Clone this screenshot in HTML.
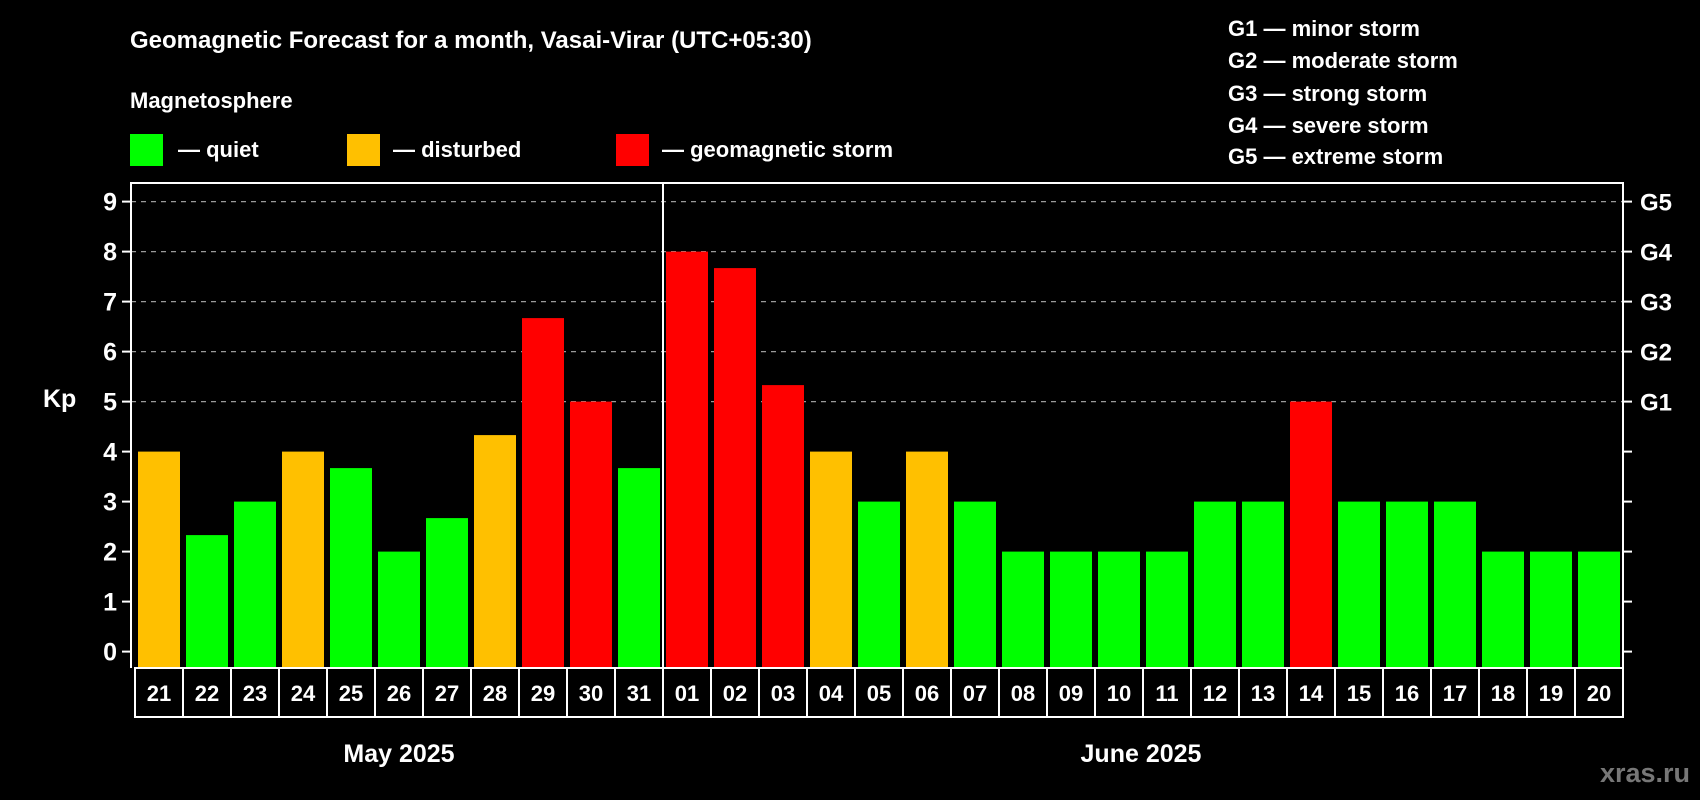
<!DOCTYPE html>
<html><head><meta charset="utf-8"><style>
html,body{margin:0;padding:0;background:#000;}
svg{display:block;font-family:"Liberation Sans",Arial,sans-serif;font-weight:bold;}
</style></head><body>
<svg id="chart" width="1700" height="800" viewBox="0 0 1700 800">
<rect width="1700" height="800" fill="#000"/>
<text x="130" y="48" fill="#fff" font-size="24">Geomagnetic Forecast for a month, Vasai-Virar (UTC+05:30)</text>
<text x="130" y="108" fill="#fff" font-size="22">Magnetosphere</text>
<g><rect x="130" y="134" width="33" height="32" fill="#00ff00"/><text x="178" y="157" fill="#fff" font-size="22">— quiet</text></g>
<g><rect x="347" y="134" width="33" height="32" fill="#ffc000"/><text x="393" y="157" fill="#fff" font-size="22">— disturbed</text></g>
<g><rect x="616" y="134" width="33" height="32" fill="#ff0000"/><text x="662" y="157" fill="#fff" font-size="22">— geomagnetic storm</text></g>
<g fill="#fff" font-size="22">
<text x="1228" y="36">G1 — minor storm</text>
<text x="1228" y="68">G2 — moderate storm</text>
<text x="1228" y="101">G3 — strong storm</text>
<text x="1228" y="133">G4 — severe storm</text>
<text x="1228" y="164">G5 — extreme storm</text>
</g>
<text x="43" y="407" fill="#fff" font-size="25">Kp</text>
<g id="grid"></g><g id="bars"></g><g id="axes"></g>
<text x="399" y="762" fill="#fff" font-size="25" text-anchor="middle">May 2025</text>
<text x="1141" y="762" fill="#fff" font-size="25" text-anchor="middle">June 2025</text>
<text x="1690" y="782" fill="#777" font-size="27" text-anchor="end">xras.ru</text>
</svg>
<script>
const days=["21","22","23","24","25","26","27","28","29","30","31","01","02","03","04","05","06","07","08","09","10","11","12","13","14","15","16","17","18","19","20"];
const kp=[4,2.33,3,4,3.67,2,2.67,4.33,6.67,5,3.67,8,7.67,5.33,4,3,4,3,2,2,2,2,3,3,5,3,3,3,2,2,2];
const yTicks=[0,1,2,3,4,5,6,7,8,9];
const gLabels=["G1","G2","G3","G4","G5"];
const gLevels=[5,6,7,8,9];
const NS="http://www.w3.org/2000/svg";
const X0=135,CW=48,Y0=651.6,U=50,PL=131,PR=1623,PT=183,PB=668;
const xs=i=>X0+i*CW, ys=v=>Y0-v*U;
function mk(t,a,p){const e=document.createElementNS(NS,t);for(const k in a)e.setAttribute(k,a[k]);p.appendChild(e);return e;}
const grid=document.getElementById('grid'),bars=document.getElementById('bars'),axes=document.getElementById('axes');
gLevels.forEach((v,i)=>{
 const l=mk('line',{x1:PL,x2:PR,y1:ys(v),y2:ys(v),stroke:'#999','stroke-width':1.3,'stroke-dasharray':'5,5'},grid);
 
 
 const t=mk('text',{x:PR+17,y:ys(v)+9,fill:'#fff','font-size':24},axes);t.textContent=gLabels[i];
 
 
});
kp.forEach((v,i)=>{
 const c=v>=5?'#ff0000':(v>=4?'#ffc000':'#00ff00');
 const r=mk('rect',{x:xs(i)+3,y:ys(v),width:CW-6,height:PB-ys(v),fill:c},bars);
 
 
 const b=mk('rect',{x:xs(i),y:PB,width:CW,height:49,fill:'none',stroke:'#fff','stroke-width':2},axes);
 
 
 const t=mk('text',{x:xs(i)+CW/2,y:PB+33,fill:'#fff','font-size':22,'text-anchor':'middle'},axes);t.textContent=days[i];
 
 
});
yTicks.forEach(v=>{
 mk('line',{x1:PL-9,x2:PL,y1:ys(v),y2:ys(v),stroke:'#fff','stroke-width':2},axes);
 mk('line',{x1:PR,x2:PR+9,y1:ys(v),y2:ys(v),stroke:'#fff','stroke-width':2},axes);
 const t=mk('text',{x:PL-14,y:ys(v)+9,fill:'#fff','font-size':25,'text-anchor':'end'},axes);t.textContent=v;
 
 
});
const f=mk('path',{d:`M${PL},${PB}V${PT}H${PR}V${PB}`,fill:'none',stroke:'#fff','stroke-width':2},axes);


const d=mk('line',{x1:xs(11),x2:xs(11),y1:PT,y2:PB,stroke:'#fff','stroke-width':2},axes);


</script>
</body></html>
